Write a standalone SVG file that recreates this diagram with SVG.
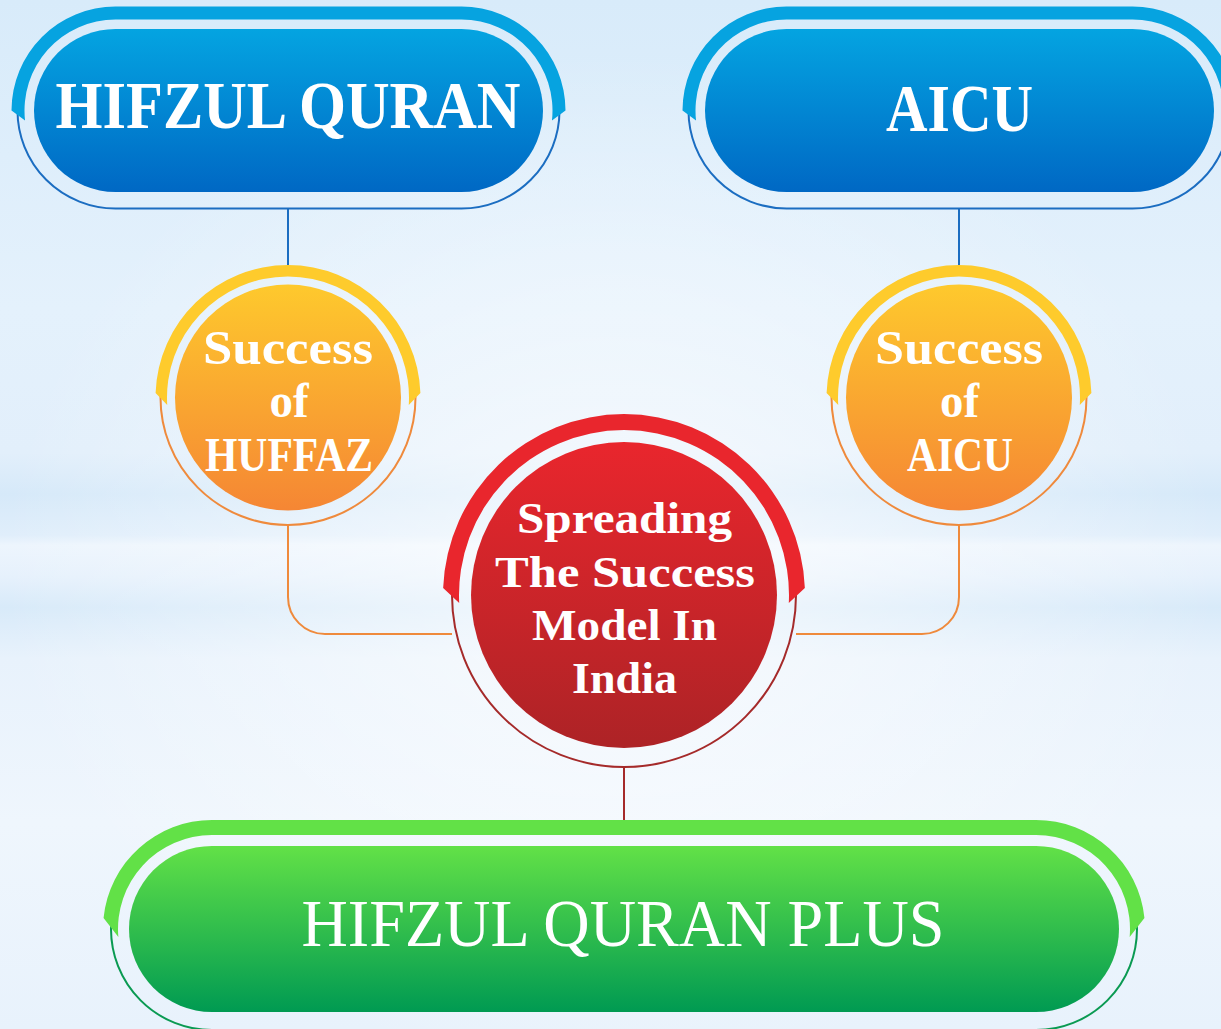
<svg xmlns="http://www.w3.org/2000/svg" width="1221" height="1029" viewBox="0 0 1221 1029">
<defs>
<linearGradient id="bg" x1="0" y1="0" x2="0" y2="1">
<stop offset="0" stop-color="#d8ebfa"/>
<stop offset="0.3" stop-color="#e4f1fc"/>
<stop offset="0.44" stop-color="#e2effb"/>
<stop offset="0.48" stop-color="#d6e9f9"/>
<stop offset="0.52" stop-color="#e0eefb"/>
<stop offset="0.53" stop-color="#edf5fd"/>
<stop offset="0.56" stop-color="#e6f1fc"/>
<stop offset="0.59" stop-color="#d8eaf9"/>
<stop offset="0.64" stop-color="#e8f2fc"/>
<stop offset="0.8" stop-color="#eff6fd"/>
<stop offset="1" stop-color="#e8f2fc"/>
</linearGradient>
<radialGradient id="glow" cx="0.5" cy="0.55" r="0.5">
<stop offset="0" stop-color="#ffffff" stop-opacity="0.7"/>
<stop offset="1" stop-color="#ffffff" stop-opacity="0"/>
</radialGradient>
<linearGradient id="gBlue" x1="0" y1="0" x2="0" y2="1">
<stop offset="0" stop-color="#04a4e1"/>
<stop offset="1" stop-color="#0068c4"/>
</linearGradient>
<linearGradient id="gOrange" x1="0" y1="0" x2="0" y2="1">
<stop offset="0" stop-color="#fec92d"/>
<stop offset="1" stop-color="#f58634"/>
</linearGradient>
<linearGradient id="gRed" x1="0" y1="0" x2="0" y2="1">
<stop offset="0" stop-color="#e9262d"/>
<stop offset="1" stop-color="#ad2326"/>
</linearGradient>
<linearGradient id="gGreen" x1="0" y1="0" x2="0" y2="1">
<stop offset="0" stop-color="#62e147"/>
<stop offset="1" stop-color="#009a52"/>
</linearGradient>
</defs>
<style>
.t{fill:#ffffff;font-family:"Liberation Serif","DejaVu Serif",serif;font-weight:bold;text-anchor:middle}
.tr{fill:#ffffff;font-family:"Liberation Serif","DejaVu Serif",serif;font-weight:normal;text-anchor:middle}
.ring{fill:none;stroke-width:2}
.conn{fill:none;stroke-width:2}
</style>
<rect x="0" y="0" width="1221" height="1029" fill="url(#bg)"/>
<rect x="0" y="0" width="1221" height="1029" fill="url(#glow)"/>

<g id="connectors">
<path class="conn" stroke="#1b6dc1" d="M288,208 V266"/>
<path class="conn" stroke="#1b6dc1" d="M959,208 V266"/>
<path class="conn" stroke="#ef8a3c" d="M288,525 V597 A37,37 0 0 0 325,634 H452"/>
<path class="conn" stroke="#ef8a3c" d="M959,525 V597 A37,37 0 0 1 922,634 H796"/>
<path class="conn" stroke="#a52a2a" d="M624,767 V822"/>
</g>

<g id="hifzul-quran">
<rect class="ring" stroke="#1b6dc1" x="17.5" y="12.5" width="542" height="196" rx="98"/>
<path fill="#06a3e0" d="M11.5,110.5 A104,104 0 0 1 115.5,6.5 L461.5,6.5 A104,104 0 0 1 565.5,110.5 L551.95,120.5 A91,91 0 0 0 461.5,19.5 L115.5,19.5 A91,91 0 0 0 25.05,120.5 Z"/>
<rect x="34" y="29" width="509" height="163" rx="81.5" fill="url(#gBlue)"/>
<text class="t" x="288" y="128" font-size="68" textLength="465" lengthAdjust="spacingAndGlyphs">HIFZUL QURAN</text>
</g>

<g id="aicu">
<rect class="ring" stroke="#1b6dc1" x="688.5" y="12.5" width="542" height="196" rx="98"/>
<path fill="#06a3e0" d="M682.5,110.5 A104,104 0 0 1 786.5,6.5 L1132.5,6.5 A104,104 0 0 1 1236.5,110.5 L1222.95,120.5 A91,91 0 0 0 1132.5,19.5 L786.5,19.5 A91,91 0 0 0 696.05,120.5 Z"/>
<rect x="705" y="29" width="509" height="163" rx="81.5" fill="url(#gBlue)"/>
<text class="t" x="959.5" y="131" font-size="68" textLength="147" lengthAdjust="spacingAndGlyphs">AICU</text>
</g>

<g id="success-huffaz">
<circle class="ring" stroke="#ef8a3c" cx="288" cy="397.5" r="127.5"/>
<path fill="#fecb2c" d="M155.58,393 A132.5,132.5 0 0 1 420.42,393 L408.77,405 A121,121 0 1 0 167.23,405 Z"/>
<circle cx="288" cy="397.5" r="113" fill="url(#gOrange)"/>
<text class="t" font-size="48" x="288" y="364" textLength="170" lengthAdjust="spacingAndGlyphs">Success</text>
<text class="t" font-size="48" x="289" y="417" textLength="39" lengthAdjust="spacingAndGlyphs">of</text>
<text class="t" font-size="48" x="289" y="471" textLength="168" lengthAdjust="spacingAndGlyphs">HUFFAZ</text>
</g>

<g id="success-aicu">
<circle class="ring" stroke="#ef8a3c" cx="959" cy="397.5" r="127.5"/>
<path fill="#fecb2c" d="M826.58,393 A132.5,132.5 0 0 1 1091.42,393 L1079.77,405 A121,121 0 1 0 838.23,405 Z"/>
<circle cx="959" cy="397.5" r="113" fill="url(#gOrange)"/>
<text class="t" font-size="48" x="959" y="364" textLength="168" lengthAdjust="spacingAndGlyphs">Success</text>
<text class="t" font-size="48" x="959.5" y="417" textLength="39" lengthAdjust="spacingAndGlyphs">of</text>
<text class="t" font-size="48" x="960" y="471" textLength="106" lengthAdjust="spacingAndGlyphs">AICU</text>
</g>

<g id="spreading">
<circle class="ring" stroke="#a52a2a" cx="624" cy="595" r="172"/>
<path fill="#e9262d" d="M443.14,588 A181,181 0 0 1 804.86,588 L788.81,603 A165,165 0 1 0 459.19,603 Z"/>
<circle cx="624" cy="595" r="153" fill="url(#gRed)"/>
<text class="t" font-size="45" x="624.5" y="533" textLength="215" lengthAdjust="spacingAndGlyphs">Spreading</text>
<text class="t" font-size="45" x="625" y="587" textLength="260" lengthAdjust="spacingAndGlyphs">The Success</text>
<text class="t" font-size="45" x="624.5" y="640" textLength="185" lengthAdjust="spacingAndGlyphs">Model In</text>
<text class="t" font-size="45" x="624.5" y="693" textLength="105" lengthAdjust="spacingAndGlyphs">India</text>
</g>

<g id="hifzul-quran-plus">
<rect class="ring" stroke="#0a9a52" x="111" y="828" width="1026" height="202" rx="101"/>
<path fill="#62e147" d="M103.56,918 A109,109 0 0 1 212,820 L1036,820 A109,109 0 0 1 1144.44,918 L1129.66,937 A94,94 0 0 0 1036,835 L212,835 A94,94 0 0 0 118.34,937 Z"/>
<rect x="129" y="846" width="990" height="166" rx="83" fill="url(#gGreen)"/>
<text class="tr" x="623" y="946" font-size="67" textLength="643" lengthAdjust="spacingAndGlyphs">HIFZUL QURAN PLUS</text>
</g>
</svg>
